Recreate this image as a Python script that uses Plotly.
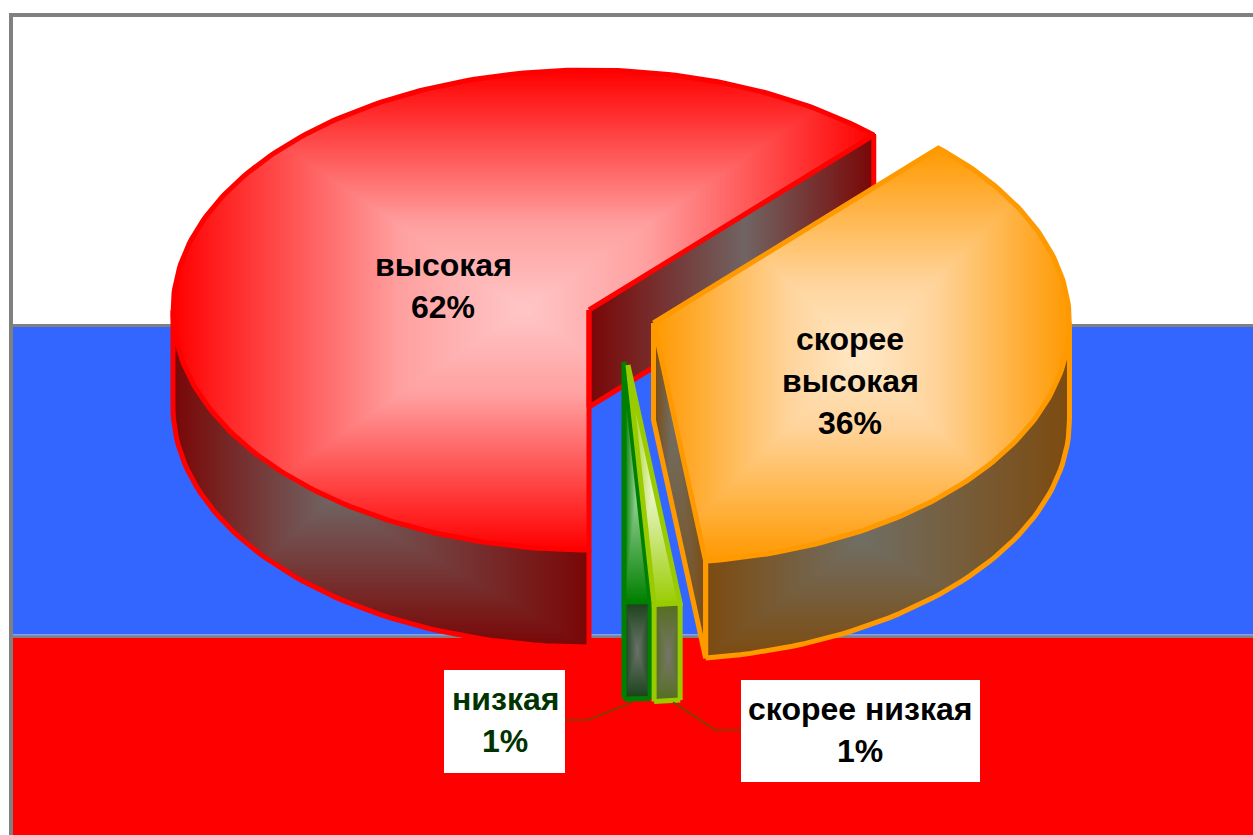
import numpy as np
import plotly.graph_objects as go

# ---- data ----
categories = ["скорее высокая", "скорее низкая", "низкая", "высокая"]
percent_values = [36, 1, 1, 62]
label_lines = [["скорее", "высокая", "36%"], ["скорее низкая", "1%"], ["низкая", "1%"], ["высокая", "62%"]]

# ---- geometry of the drawing (page pixels) ----
W, H = 1253, 835
A, B, DEPTH = 416, 240, 97
START = 43.2
centers = {"скорее высокая": (653.5, 323), "скорее низкая": (628, 365), "низкая": (624, 362), "высокая": (589, 310)}

angles = {}
t = START
for c, v in zip(categories, percent_values):
    angles[c] = (t, t + v * 3.6)
    t += v * 3.6


def rgb(c):
    return "rgb(%d,%d,%d)" % c


traces = []
current_axis = ("x", "y")


def grid(x0, x1, y0, y1, step):
    xs = np.arange(x0, x1 + step, step, dtype=float)
    ys = np.arange(y0, y1 + step, step, dtype=float)
    X, Y = np.meshgrid(xs, ys)
    return xs, ys, X, Y


def rect_level(X, Y, cx, cy, x0, x1, y0, y1):
    dx = np.where(X < cx, (cx - X) / max(cx - x0, 1), (X - cx) / max(x1 - cx, 1))
    if cy is None:
        return np.clip(dx, 0, 1)
    dy = np.where(Y < cy, (cy - Y) / max(cy - y0, 1), (Y - cy) / max(y1 - cy, 1))
    return np.clip(np.maximum(dx, dy), 0, 1)


def add_heat(xs, ys, Z, mask, c0, c1, mid=None):
    Z = np.where(mask, Z, np.nan).astype("float32")
    scale = [[0, rgb(c0)], [1, rgb(c1)]]
    if mid is not None:
        scale = [[0, rgb(c0)], [mid[0], rgb(mid[1])], [1, rgb(c1)]]
    traces.append(go.Heatmap(x=xs, y=ys, z=Z, zmin=0, zmax=1, colorscale=scale, showscale=False,
                             hoverinfo="skip", zsmooth=False, xaxis=current_axis[0], yaxis=current_axis[1]))


def add_line(xs, ys, color, width=5, close=False):
    xs, ys = list(xs), list(ys)
    if close:
        xs.append(xs[0]); ys.append(ys[0])
    traces.append(go.Scatter(x=xs, y=ys, mode="lines", line=dict(color=color, width=width, shape="linear"),
                             hoverinfo="skip", showlegend=False, xaxis=current_axis[0], yaxis=current_axis[1]))


def pt(cx, cy, deg):
    r = np.radians(deg)
    return cx + A * np.sin(r), cy - B * np.cos(r)


def slab_face(p, q, edge, grey, stroke, focus, step=2):
    """Flat wall going down from the radius p-q."""
    x0, x1 = sorted((p[0], q[0]))
    y0, y1 = min(p[1], q[1]), max(p[1], q[1]) + DEPTH
    if x1 - x0 < 1:
        return
    xs, ys, X, Y = grid(x0, x1, y0, y1, step)
    top = p[1] + (q[1] - p[1]) * (X - p[0]) / (q[0] - p[0])
    mask = (Y >= top) & (Y <= top + DEPTH)
    add_heat(xs, ys, rect_level(X, Y, focus[0], focus[1], x0, x1, y0, y1), mask, grey, edge)
    add_line([p[0], p[0], q[0], q[0]], [p[1], p[1] + DEPTH, q[1] + DEPTH, q[1]], stroke)


def outer_wall(cx, cy, a0, a1, edge, grey, stroke, focus, step=2):
    """Curved rim between angles a0..a1 (front half only)."""
    a0, a1 = max(a0, 90), min(a1, 270)
    if a1 <= a0:
        return
    ts = np.arange(a0, a1 + 0.5, 1.5)
    ts[-1] = a1
    px, py = pt(cx, cy, ts)
    x0, x1 = px.min(), px.max()
    y0, y1 = py.min(), py.max() + DEPTH
    xs, ys, X, Y = grid(x0, x1, y0, y1, step)
    u = np.clip((X - cx) / A, -1, 1)
    rim = cy + B * np.sqrt(1 - u ** 2)
    mask = (Y >= rim - 1) & (Y <= rim + DEPTH)
    add_heat(xs, ys, rect_level(X, Y, focus[0], focus[1], x0, x1, y0, y1), mask, grey, edge)
    add_line(list(px), list(py + DEPTH), stroke)
    add_line([px[0], px[0]], [py[0], py[0] + DEPTH], stroke)
    add_line([px[-1], px[-1]], [py[-1], py[-1] + DEPTH], stroke)


def top_face(cx, cy, a0, a1, c0, c1, stroke, step=2, mid=None):
    ts = np.arange(a0, a1 + 0.5, 1.0)
    ts[-1] = a1
    px, py = pt(cx, cy, ts)
    px = np.r_[cx, px]; py = np.r_[cy, py]
    x0, x1, y0, y1 = px.min(), px.max(), py.min(), py.max()
    xs, ys, X, Y = grid(x0, x1, y0, y1, step)
    dx, dy = (X - cx) / A, (Y - cy) / B
    ang = (np.degrees(np.arctan2(dx, -dy)) - a0) % 360
    mask = (dx ** 2 + dy ** 2 <= 1) & (ang <= a1 - a0)
    add_heat(xs, ys, rect_level(X, Y, (x0 + x1) / 2, (y0 + y1) / 2, x0, x1, y0, y1), mask, c0, c1, mid)
    add_line(px, py, stroke, close=True)


# ---- red slice (main axes) ----
RED, RED_D, RED_G = (255, 0, 0), (122, 6, 6), (112, 100, 98)
name = "высокая"
c = centers[name]; a0, a1 = angles[name]
slab_face(c, pt(c[0], c[1], a1), RED_D, RED_G, rgb(RED), (745, None))
outer_wall(c[0], c[1], a0, a1, RED_D, RED_G, rgb(RED), (330, 500))
top_face(c[0], c[1], a0, a1, (255, 198, 198), RED, rgb(RED), mid=(0.35, (255, 160, 160)))

# ---- orange slice ----
current_axis = ("x2", "y2")
ORG, ORG_D, ORG_G = (255, 153, 0), (125, 75, 15), (112, 110, 100)
name = "скорее высокая"
c = centers[name]; a0, a1 = angles[name]
slab_face(c, pt(c[0], c[1], a1), ORG_D, ORG_G, rgb(ORG), (672, 420))
outer_wall(c[0], c[1], a0, a1, ORG_D, ORG_G, rgb(ORG), (860, 540))
top_face(c[0], c[1], a0, a1, (255, 232, 200), ORG, rgb(ORG), mid=(0.35, (255, 212, 155)))

# ---- dark green slice ----
current_axis = ("x3", "y3")
name = "низкая"
c = centers[name]; a0, a1 = angles[name]
DG = (0, 128, 0)
outer_wall(c[0], c[1], a0, a1, (25, 65, 25), (105, 115, 105), rgb(DG), (637, 650), step=1)
top_face(c[0], c[1], a0, a1, (170, 220, 170), DG, rgb(DG), step=1)

# ---- light green slice and leader lines ----
current_axis = ("x4", "y4")
name = "скорее низкая"
c = centers[name]; a0, a1 = angles[name]
LG = (153, 204, 0)
outer_wall(c[0], c[1], a0, a1, (85, 110, 30), (118, 118, 105), rgb(LG), (668, 655), step=1)
top_face(c[0], c[1], a0, a1, (240, 250, 215), LG, rgb(LG), step=1)

LEAD = "rgb(50,100,0)"
add_line([565, 588, 633], [720, 720, 702], LEAD, 1.2)
add_line([673, 715, 741], [702, 730, 730], LEAD, 1.2)

fig = go.Figure(traces)

# ---- flag background ----
GREY = "rgb(128,128,128)"
shapes = [
    dict(type="rect", x0=9, x1=W + 5, y0=13, y1=H + 5, fillcolor=GREY, line_width=0, layer="below"),
    dict(type="rect", x0=13, x1=W + 5, y0=17, y1=324, fillcolor="white", line_width=0, layer="below"),
    dict(type="rect", x0=13, x1=W + 5, y0=327, y1=634, fillcolor="rgb(51,102,255)", line_width=0, layer="below"),
    dict(type="rect", x0=13, x1=W + 5, y0=634, y1=635.5, fillcolor="rgb(130,160,240)", line_width=0, layer="below"),
    dict(type="rect", x0=13, x1=W + 5, y0=638, y1=H + 5, fillcolor="rgb(255,0,0)", line_width=0, layer="below"),
    # label boxes
    dict(type="rect", x0=444, x1=565, y0=670, y1=773, fillcolor="white", line_width=0, layer="above"),
    dict(type="rect", x0=741, x1=980, y0=680, y1=782, fillcolor="white", line_width=0, layer="above"),
]

label_pos = {"скорее высокая": (850, 339, "black"), "скорее низкая": (860, 709, "black"),
             "низкая": (505, 699, "rgb(0,51,0)"), "высокая": (443, 265, "black")}
annotations = []
for cat, lines in zip(categories, label_lines):
    x, y, col = label_pos[cat]
    for i, ln in enumerate(lines):
        annotations.append(dict(x=x, y=y + 42 * i, text="<b>%s</b>" % ln, showarrow=False, xref="x", yref="y",
                                xanchor="center", yanchor="middle",
                                font=dict(family="Liberation Sans", size=32, color=col)))

layout_axes = {}
for i in ("", "2", "3", "4"):
    xa = dict(range=[0, W], visible=False, fixedrange=True)
    ya = dict(range=[H, 0], visible=False, fixedrange=True)
    if i:
        xa.update(overlaying="x")
        ya.update(overlaying="y")
    layout_axes["xaxis" + i] = xa
    layout_axes["yaxis" + i] = ya

fig.update_layout(
    width=W, height=H, margin=dict(l=0, r=0, t=0, b=0, pad=0), autosize=False,
    paper_bgcolor="white", plot_bgcolor="rgba(0,0,0,0)", showlegend=False,
    shapes=shapes, annotations=annotations, **layout_axes,
)
fig.write_html("out.html", config=dict(displayModeBar=False),
               post_script="document.body.style.margin='0';document.documentElement.style.overflow='hidden';")
